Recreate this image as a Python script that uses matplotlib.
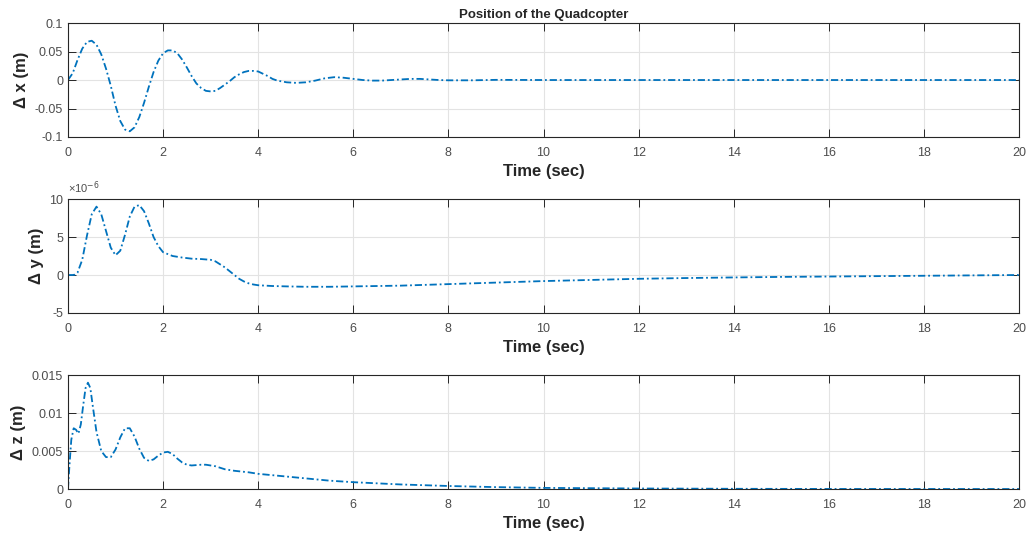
import numpy as np
import matplotlib.pyplot as plt
from matplotlib.ticker import FuncFormatter

plt.rcParams['font.family'] = ['Liberation Sans', 'DejaVu Sans']
plt.rcParams['axes.unicode_minus'] = False

# position error in x (m)
t_x = [0.0, 0.1, 0.2, 0.3, 0.4, 0.5, 0.6, 0.7, 0.8, 0.9, 1.0, 1.1, 1.2, 1.3, 1.4,
       1.5, 1.6, 1.7, 1.8, 1.9, 2.0, 2.1, 2.2, 2.3, 2.4, 2.5, 2.6, 2.7, 2.8, 2.9,
       3.0, 3.1, 3.2, 3.3, 3.4, 3.5, 3.6, 3.7, 3.8, 3.9, 4.0, 4.1, 4.2, 4.3, 4.4,
       4.6, 4.8, 5.0, 5.2, 5.4, 5.6, 5.8, 6.0, 6.2, 6.4, 6.6, 6.8, 7.0, 7.2, 7.4,
       7.6, 7.8, 8.0, 8.5, 9.0, 10.0, 12.0, 14.0, 16.0, 18.0, 20.0]
dx = [0.0, 0.012, 0.035, 0.055, 0.067, 0.069, 0.062, 0.045, 0.02, -0.01, -0.045,
      -0.072, -0.087, -0.09, -0.083, -0.065, -0.04, -0.012, 0.014, 0.034, 0.047,
      0.052, 0.052, 0.047, 0.036, 0.022, 0.007, -0.006, -0.014, -0.019, -0.02,
      -0.019, -0.014, -0.008, -0.002, 0.005, 0.01, 0.014, 0.016, 0.016, 0.015,
      0.011, 0.007, 0.002, -0.001, -0.004, -0.005, -0.004, -0.001, 0.003, 0.005,
      0.004, 0.002, 0.0, -0.001, -0.001, 0.0, 0.001, 0.002, 0.002, 0.001, 0.0,
      -0.0005, -0.0005, 0.0003, 0.0, 0.0, 0.0, 0.0, 0.0, 0.0]

# position error in y (m)
t_y = [0.0, 0.1, 0.15, 0.2, 0.3, 0.4, 0.5, 0.6, 0.7, 0.8, 0.9, 1.0, 1.1, 1.2, 1.3,
       1.4, 1.5, 1.6, 1.7, 1.8, 1.9, 2.0, 2.2, 2.4, 2.6, 2.8, 3.0, 3.1, 3.2, 3.3,
       3.4, 3.5, 3.6, 3.7, 3.8, 3.9, 4.0, 4.3, 4.6, 5.0, 5.5, 6.0, 7.0, 8.0, 9.0,
       10.0, 11.0, 12.0, 13.0, 14.0, 15.0, 16.0, 17.0, 18.0, 19.0, 20.0]
dy = [0.0, 0.0, 0.05, 0.3, 2.0, 5.2, 8.0, 9.0, 8.0, 5.8, 3.6, 2.6, 3.2, 5.3, 7.7,
      9.0, 9.2, 8.4, 6.8, 5.0, 3.8, 3.0, 2.5, 2.3, 2.15, 2.1, 2.0, 1.8, 1.4, 1.0,
      0.5, 0.0, -0.5, -0.85, -1.1, -1.25, -1.35, -1.45, -1.5, -1.55, -1.55, -1.5,
      -1.4, -1.2, -1.0, -0.8, -0.65, -0.5, -0.4, -0.32, -0.25, -0.2, -0.15, -0.1,
      -0.05, 0.0]
dy = np.array(dy) * 1e-6

# position error in z (m)
t_z = [0.0, 0.03, 0.07, 0.12, 0.17, 0.22, 0.27, 0.32, 0.37, 0.42, 0.47, 0.52, 0.6,
       0.7, 0.8, 0.9, 1.0, 1.1, 1.2, 1.3, 1.4, 1.5, 1.6, 1.7, 1.8, 1.9, 2.0, 2.1,
       2.2, 2.3, 2.4, 2.5, 2.6, 2.8, 2.9, 3.1, 3.3, 3.5, 3.8, 4.0, 4.5, 5.0, 5.5,
       6.0, 7.0, 8.0, 9.0, 10.0, 12.0, 14.0, 16.0, 20.0]
dz = [0.0, 0.003, 0.0065, 0.008, 0.0078, 0.0073, 0.0085, 0.011, 0.0133, 0.014,
      0.0133, 0.011, 0.0075, 0.005, 0.0042, 0.0042, 0.0052, 0.0068, 0.008, 0.008,
      0.0069, 0.0053, 0.0041, 0.0037, 0.0039, 0.0044, 0.0048, 0.0049, 0.0046,
      0.004, 0.0035, 0.0032, 0.0031, 0.0032, 0.0032, 0.003, 0.0026, 0.0024,
      0.0022, 0.002, 0.0017, 0.0014, 0.0011, 0.0009, 0.0006, 0.0004, 0.00025,
      0.00015, 0.00007, 0.00003, 0.00001, 0.0]

x_ticks = [0, 2, 4, 6, 8, 10, 12, 14, 16, 18, 20]
blue = '#0072BD'
dark = '#262626'
tick_grey = '#4d4d4d'

fig = plt.figure(figsize=(10.33, 5.4), dpi=100)
left, width, height = 0.0658, 0.9207, 0.211
bottoms = [0.7463, 0.4204, 0.0944]
axes = [fig.add_axes([left, b, width, height]) for b in bottoms]

plain = FuncFormatter(lambda v, p: '%g' % v)

for ax, t, d, lab in zip(axes, [t_x, t_y, t_z], [dx, dy, dz],
                         ['Δ x (m)', 'Δ y (m)', 'Δ z (m)']):
    ax.plot(t, d, color=blue, linestyle=(0, (4, 1.6, 1, 1.6)), linewidth=1.3)
    ax.set_xlim(0, 20)
    ax.set_xticks(x_ticks)
    ax.xaxis.set_major_formatter(plain)
    ax.grid(True, color='#e3e3e3', linewidth=0.8)
    ax.set_axisbelow(True)
    ax.tick_params(direction='in', top=True, right=True, length=5.5, width=0.7,
                   colors=dark, labelsize=9, labelcolor=tick_grey)
    ax.tick_params(axis='x', pad=7)
    for s in ax.spines.values():
        s.set_color(dark)
        s.set_linewidth(0.8)
    ax.set_xlabel('Time (sec)', fontsize=12, fontweight='bold', color=dark, labelpad=4)
    ax.set_ylabel(lab, fontsize=12, fontweight='bold', color=dark, labelpad=4)

axes[0].set_ylim(-0.1, 0.1)
axes[0].set_yticks([-0.1, -0.05, 0, 0.05, 0.1])
axes[0].yaxis.set_major_formatter(plain)
axes[0].set_title('Position of the Quadcopter', fontsize=9.5, fontweight='bold',
                  color=dark, pad=4)

axes[1].set_ylim(-5e-6, 10e-6)
axes[1].set_yticks([-5e-6, 0, 5e-6, 10e-6])
axes[1].yaxis.set_major_formatter(FuncFormatter(lambda v, p: '%g' % round(v * 1e6, 6)))
axes[1].text(0, 1.03, '×10$^{-6}$', transform=axes[1].transAxes, fontsize=8,
             color=tick_grey, ha='left', va='bottom')

axes[2].set_ylim(0, 0.015)
axes[2].set_yticks([0, 0.005, 0.01, 0.015])
axes[2].yaxis.set_major_formatter(plain)

fig.savefig('out.png', dpi=100)
